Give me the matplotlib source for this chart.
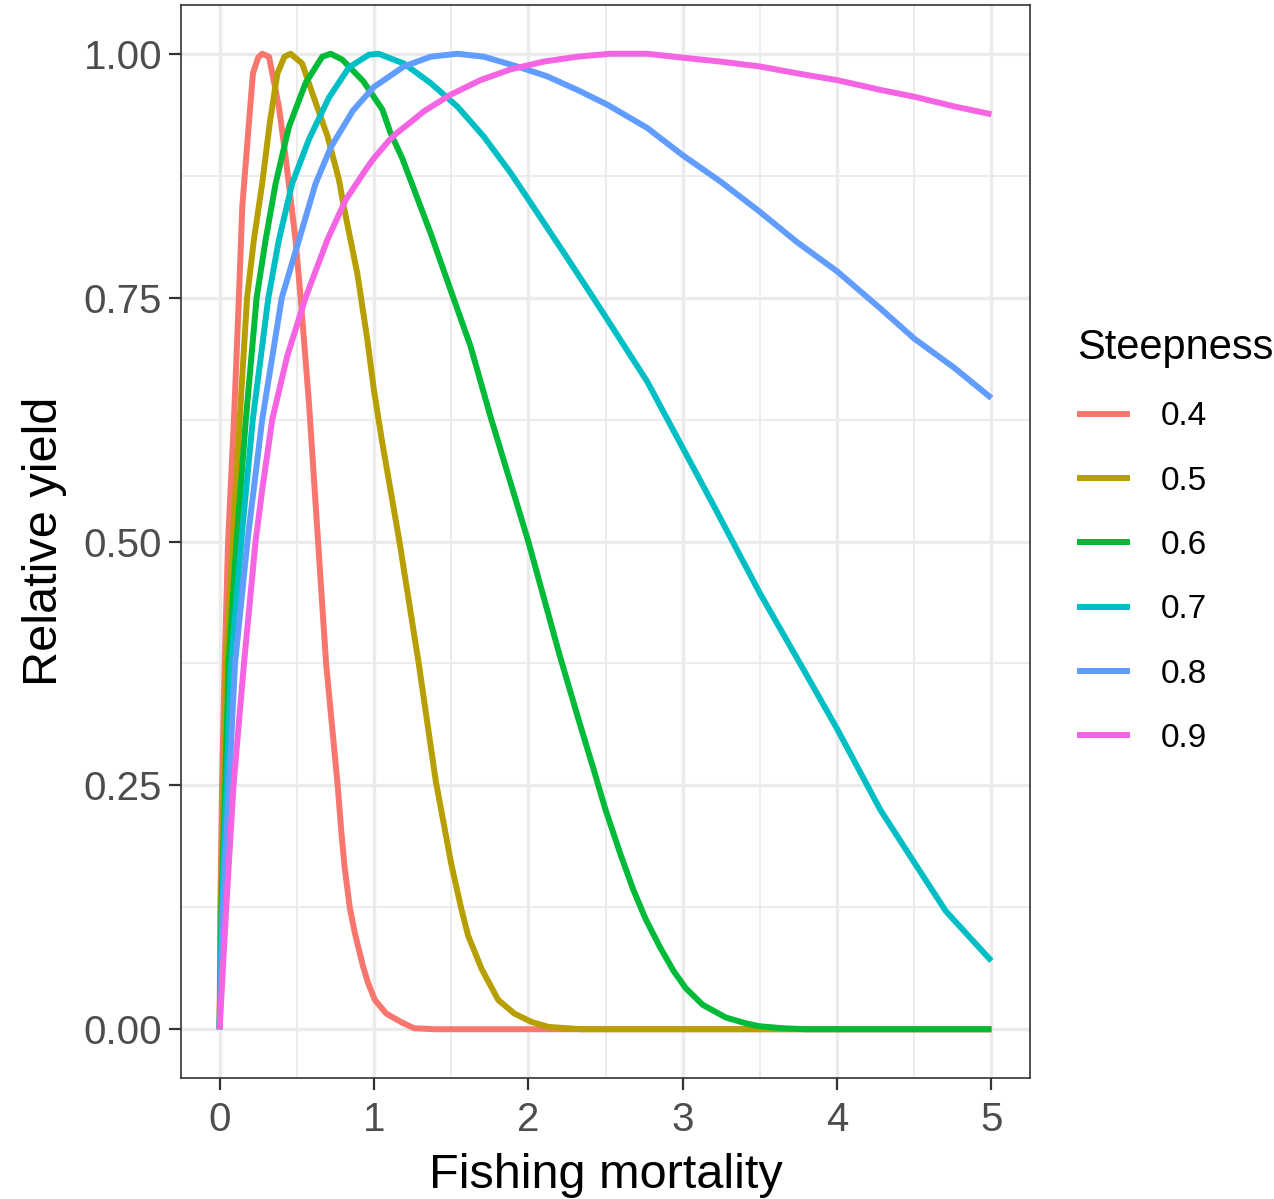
import matplotlib
matplotlib.use("Agg")
import matplotlib.pyplot as plt

plt.rcParams['font.family'] = ['Liberation Sans', 'DejaVu Sans']

# Rendimiento relativo vs mortalidad por pesca
steepness = ['0.4', '0.5', '0.6', '0.7', '0.8', '0.9']
colores = ['#F8766D', '#B79F00', '#00BA38', '#00BFC4', '#619CFF', '#F564E3']

f_h04 = [0, 0.005, 0.016, 0.033, 0.055, 0.093, 0.125, 0.147, 0.19, 0.216, 0.25, 0.276, 0.32,
         0.384, 0.427, 0.492, 0.525, 0.58, 0.638, 0.69, 0.765, 0.79, 0.81, 0.844, 0.877, 0.93,
         0.963, 1.006, 1.08, 1.18, 1.26, 1.4, 5.0]
y_h04 = [0, 0.125, 0.25, 0.375, 0.5, 0.625, 0.75, 0.843, 0.929, 0.98, 0.996, 1.0, 0.997,
         0.946, 0.895, 0.809, 0.75, 0.64, 0.5, 0.375, 0.25, 0.2, 0.166, 0.124, 0.098, 0.064,
         0.047, 0.03, 0.016, 0.007, 0.001, 0, 0]

f_h05 = [0, 0.008, 0.026, 0.042, 0.085, 0.13, 0.178, 0.222, 0.276, 0.325, 0.375, 0.42, 0.46,
         0.535, 0.6, 0.7, 0.773, 0.805, 0.892, 0.957, 1.0, 1.05, 1.165, 1.29, 1.40, 1.5, 1.565,
         1.61, 1.697, 1.805, 1.91, 2.02, 2.13, 2.34, 5.0]
y_h05 = [0, 0.125, 0.25, 0.375, 0.5, 0.625, 0.75, 0.809, 0.867, 0.929, 0.98, 0.997, 1.0,
         0.99, 0.96, 0.915, 0.871, 0.843, 0.775, 0.707, 0.655, 0.605, 0.5, 0.375, 0.255, 0.17,
         0.124, 0.096, 0.062, 0.03, 0.016, 0.0075, 0.0024, 0, 0]

f_h06 = [0, 0.012, 0.037, 0.058, 0.11, 0.17, 0.24, 0.298, 0.363, 0.449, 0.557, 0.665, 0.72,
         0.795, 0.93, 1.054, 1.107, 1.183, 1.25, 1.367, 1.496, 1.626, 1.755, 2.0, 2.2, 2.33,
         2.42, 2.5, 2.6, 2.68, 2.76, 2.85, 2.94, 3.02, 3.13, 3.28, 3.41, 3.5, 3.65, 3.8, 5.0]
y_h06 = [0, 0.125, 0.25, 0.375, 0.5, 0.625, 0.75, 0.809, 0.867, 0.925, 0.97, 0.997, 1.0,
         0.994, 0.972, 0.943, 0.919, 0.893, 0.865, 0.816, 0.758, 0.7, 0.628, 0.5, 0.385, 0.315,
         0.268, 0.225, 0.178, 0.143, 0.113, 0.085, 0.06, 0.042, 0.025, 0.012, 0.006, 0.003,
         0.001, 0, 0]

f_h07 = [0, 0.016, 0.045, 0.075, 0.14, 0.215, 0.316, 0.384, 0.47, 0.578, 0.708, 0.838, 0.967,
         1.03, 1.194, 1.367, 1.54, 1.712, 1.885, 2.058, 2.23, 2.40, 2.51, 2.77, 2.99, 3.2, 3.5,
         3.76, 4.0, 4.28, 4.5, 4.705, 5.0]
y_h07 = [0, 0.125, 0.25, 0.375, 0.5, 0.625, 0.75, 0.809, 0.867, 0.912, 0.955, 0.986, 0.999,
         1.0, 0.99, 0.97, 0.946, 0.915, 0.878, 0.837, 0.796, 0.755, 0.728, 0.664, 0.599, 0.537,
         0.447, 0.375, 0.308, 0.225, 0.171, 0.121, 0.07]

f_h08 = [0, 0.022, 0.06, 0.10, 0.18, 0.276, 0.403, 0.514, 0.622, 0.72, 0.865, 1.0, 1.194,
         1.367, 1.54, 1.712, 1.928, 2.12, 2.317, 2.51, 2.77, 3.0, 3.245, 3.5, 3.74, 4.0, 4.28,
         4.5, 4.76, 5.0]
y_h08 = [0, 0.125, 0.25, 0.375, 0.5, 0.625, 0.75, 0.809, 0.867, 0.904, 0.942, 0.966, 0.987,
         0.997, 1.0, 0.997, 0.987, 0.977, 0.963, 0.948, 0.924, 0.896, 0.869, 0.838, 0.807,
         0.777, 0.739, 0.708, 0.678, 0.647]

f_h09 = [0, 0.043, 0.09, 0.158, 0.233, 0.276, 0.341, 0.438, 0.557, 0.7, 0.816, 0.95, 1.0,
         1.097, 1.15, 1.27, 1.323, 1.496, 1.69, 1.885, 2.1, 2.317, 2.53, 2.77, 3.0, 3.245, 3.5,
         3.74, 4.0, 4.28, 4.5, 4.76, 5.0]
y_h09 = [0, 0.125, 0.25, 0.375, 0.5, 0.553, 0.625, 0.69, 0.75, 0.81, 0.85, 0.882, 0.893,
         0.911, 0.919, 0.934, 0.941, 0.958, 0.973, 0.984, 0.992, 0.997, 1.0, 1.0, 0.996, 0.992,
         0.987, 0.98, 0.973, 0.963, 0.956, 0.946, 0.938]

x_ticks = [0, 1, 2, 3, 4, 5]
y_ticks = [0, 0.25, 0.5, 0.75, 1.0]
y_ticklabels = ['0.00', '0.25', '0.50', '0.75', '1.00']

series_f = [f_h04, f_h05, f_h06, f_h07, f_h08, f_h09]
series_y = [y_h04, y_h05, y_h06, y_h07, y_h08, y_h09]

#Ploteando
fig = plt.figure(figsize=(12.74, 11.99), dpi=100)
ax = fig.add_axes([181 / 1274, 1 - 1078 / 1199, (1030 - 181) / 1274, (1078 - 5) / 1199])

for f, y, col, lab in zip(series_f, series_y, colores, steepness):
    ax.plot(f, y, color=col, lw=4.3, label=lab, solid_capstyle='butt', solid_joinstyle='round')

ax.set_xlim(-0.25, 5.25)
ax.set_ylim(-0.05, 1.05)
ax.set_xticks(x_ticks)
ax.set_xticklabels([str(t) for t in x_ticks])
ax.set_yticks(y_ticks)
ax.set_yticklabels(y_ticklabels)
ax.set_xticks([0.5, 1.5, 2.5, 3.5, 4.5], minor=True)
ax.set_yticks([0.125, 0.375, 0.625, 0.875], minor=True)

# estilo tipo theme_bw
ax.set_axisbelow(True)
ax.grid(which='major', color='#EBEBEB', lw=2.4)
ax.grid(which='minor', color='#EBEBEB', lw=1.3)
for s in ax.spines.values():
    s.set_color('#333333')
    s.set_linewidth(1.2)
ax.tick_params(which='major', length=8.5, width=1.6, color='#333333',
               labelsize=29, labelcolor='#4D4D4D', pad=5)
ax.tick_params(axis='x', which='major', pad=8)
ax.tick_params(which='minor', length=0)

ax.set_xlabel('Fishing mortality', fontsize=35, labelpad=10)
ax.set_ylabel('Relative yield', fontsize=35, labelpad=12)

leg = fig.legend(title='Steepness', loc='upper left', bbox_to_anchor=(1077 / 1274, 1 - 328 / 1199),
                 frameon=False, fontsize=24, title_fontsize=30, handlelength=1.6,
                 handletextpad=0.9, labelspacing=1.0, borderpad=0, borderaxespad=0,
                 alignment='left')
for h in leg.get_lines():
    h.set_linewidth(4.3)

fig.savefig('out.png', dpi=100)
